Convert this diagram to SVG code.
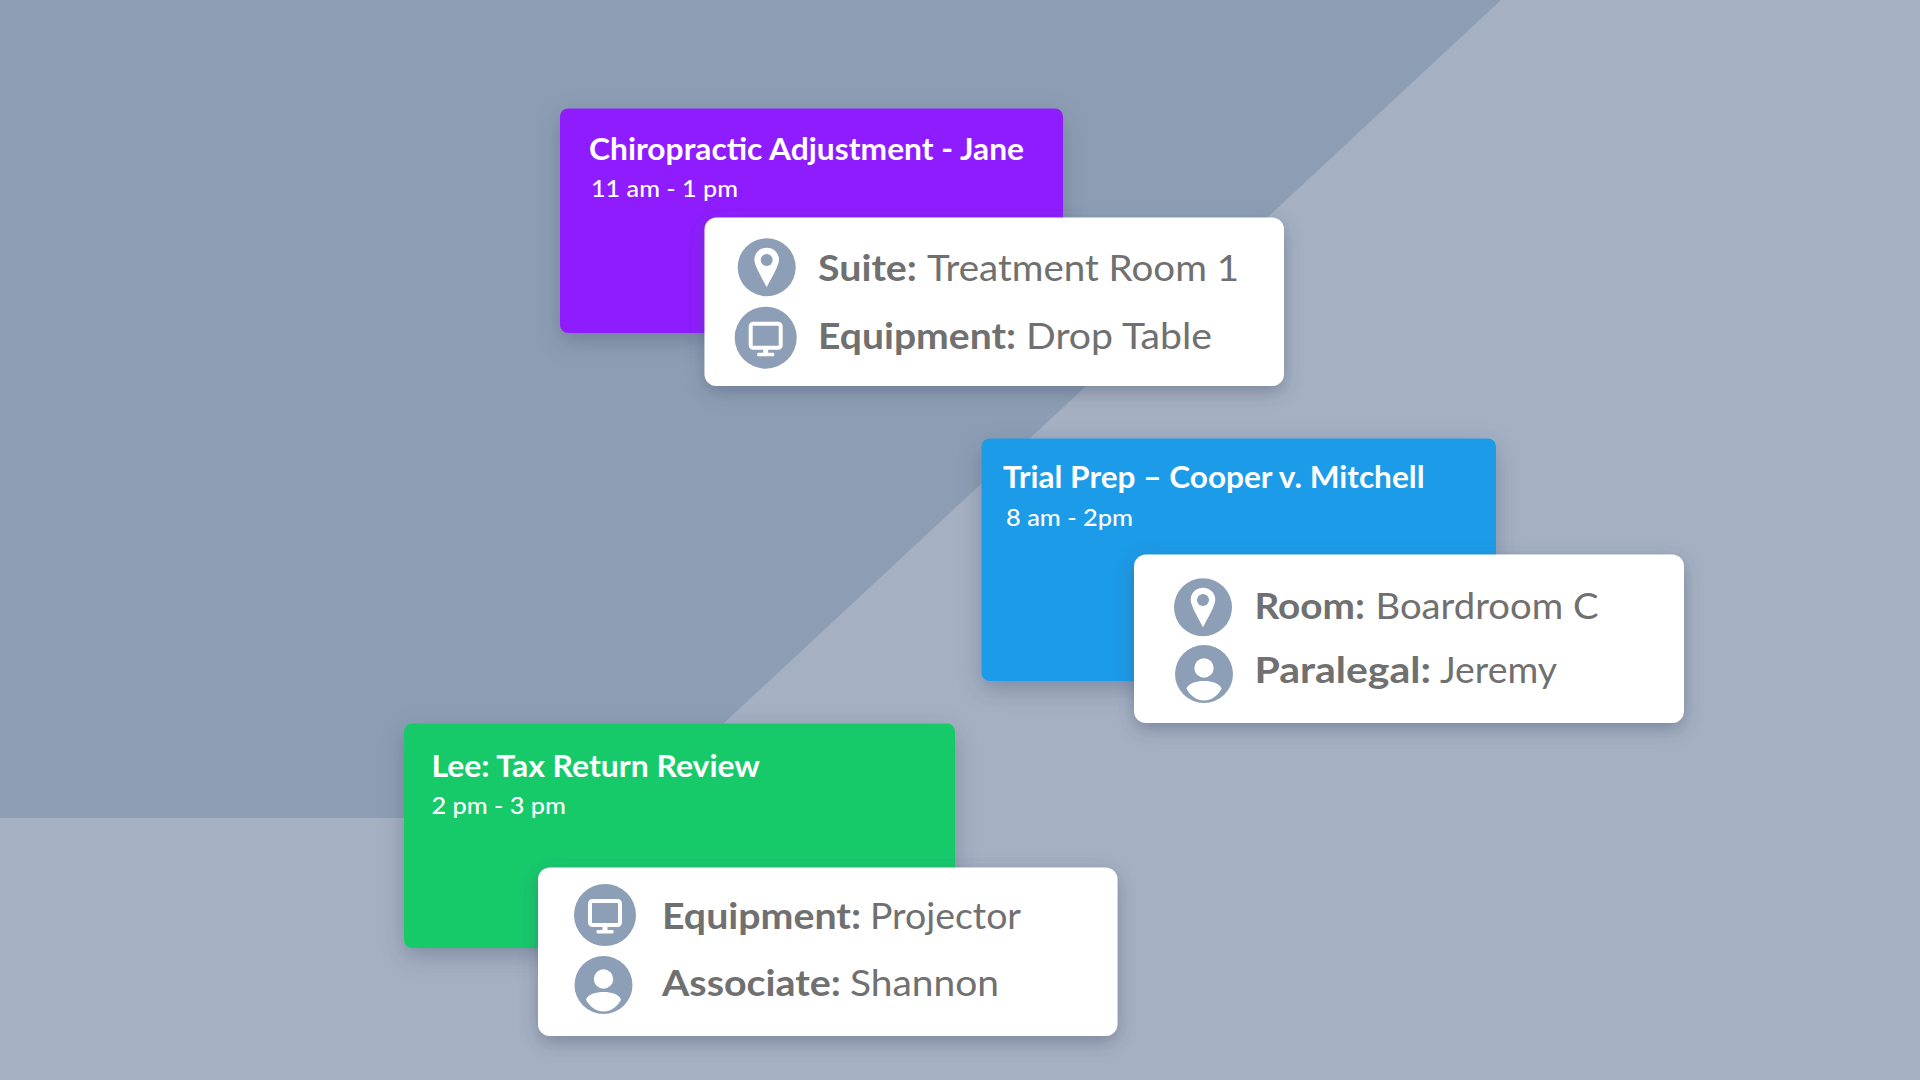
<svg xmlns="http://www.w3.org/2000/svg" width="1920" height="1080" viewBox="0 0 1920 1080">
<defs>
<style>
text{font-family:"Lato","Noto Sans","Liberation Sans",sans-serif}
.t{font-size:29.500px;font-weight:700;fill:#fff}
.s{font-size:23.500px;font-weight:500;fill:#fff}
.b{font-size:37px;font-weight:700;fill:#707070}
.r{font-size:37px;font-weight:400;fill:#707070}
.c{fill:#8c9fb6}
</style>
<filter id="sh" x="-20%" y="-20%" width="140%" height="150%"><feDropShadow dx="0" dy="8" stdDeviation="11" flood-color="#3c4c68" flood-opacity=".35"/></filter>
<filter id="sw" x="-20%" y="-20%" width="140%" height="150%"><feDropShadow dx="0" dy="6" stdDeviation="9" flood-color="#3c4c68" flood-opacity=".4"/></filter>
<g id="pin"><path d="M0-19.500C-7-19.500-12.300-14.200-12.300-7.500C-12.300-1.500-4.500 11 0 20C4.500 11 12.300-1.500 12.300-7.500C12.300-14.200 7-19.500 0-19.500Z" fill="#fff"/><circle cy="-7.300" r="6" class="c"/></g>
<g id="mon"><rect x="-15" y="-14" width="30" height="24" rx="2.500" fill="none" stroke="#fff" stroke-width="4"/><rect x="-2.500" y="11" width="5" height="5" fill="#fff"/><rect x="-8.500" y="15" width="17" height="3.500" rx="1" fill="#fff"/></g>
<g id="per"><circle cy="-6" r="9.700" fill="#fff"/><path d="M-17.500 14.500C-15 9-8 7 0 7C8 7 15 9 17.500 14.500C14 22 7 26.500 0 26.500C-7 26.500-14 22-17.500 14.500Z" fill="#fff"/></g>
</defs>
<g id="background">
<rect width="1920" height="1080" fill="#a5b0c2"/>
<polygon points="0,0 1501,0 622,818 0,818" fill="#8d9eb4"/>
</g>
<g id="card-purple">
<rect x="560" y="108.500" width="503" height="224.500" rx="8" fill="#8f1cff" filter="url(#sh)"/>
<text class="t" x="589" y="159.500" textLength="435" lengthAdjust="spacingAndGlyphs">Chiropractic Adjustment - Jane</text>
<text class="s" x="591" y="196.500" textLength="147" lengthAdjust="spacingAndGlyphs">11 am - 1 pm</text>
</g>
<g id="popup-purple">
<rect x="704.500" y="217.500" width="579.500" height="168.500" rx="12" fill="#fff" filter="url(#sw)"/>
<circle class="c" cx="766.700" cy="267.300" r="29"/><use href="#pin" x="766.700" y="267.300"/>
<circle class="c" cx="765.700" cy="337.700" r="31"/><use href="#mon" x="765.700" y="337.700"/>
<text class="b" x="818" y="280.500" textLength="99" lengthAdjust="spacingAndGlyphs">Suite:</text>
<text class="r" x="927" y="280.500" textLength="312" lengthAdjust="spacingAndGlyphs">Treatment Room 1</text>
<text class="b" x="818" y="348.500" textLength="198" lengthAdjust="spacingAndGlyphs">Equipment:</text>
<text class="r" x="1026" y="348.500" textLength="186" lengthAdjust="spacingAndGlyphs">Drop Table</text>
</g>
<g id="card-blue">
<rect x="981.500" y="438.500" width="514.500" height="242.500" rx="8" fill="#1c9be8" filter="url(#sh)"/>
<text class="t" x="1003" y="487.500" textLength="421.500" lengthAdjust="spacingAndGlyphs">Trial Prep – Cooper v. Mitchell</text>
<text class="s" x="1006" y="525.500" textLength="127" lengthAdjust="spacingAndGlyphs">8 am - 2pm</text>
</g>
<g id="popup-blue">
<rect x="1134" y="554.500" width="550" height="168.500" rx="12" fill="#fff" filter="url(#sw)"/>
<circle class="c" cx="1203" cy="607.300" r="29"/><use href="#pin" x="1203" y="607.300"/>
<circle class="c" cx="1204" cy="674" r="29"/><use href="#per" x="1204" y="674"/>
<text class="b" x="1254.500" y="618.500" textLength="110.500" lengthAdjust="spacingAndGlyphs">Room:</text>
<text class="r" x="1375.500" y="618.500" textLength="223" lengthAdjust="spacingAndGlyphs">Boardroom C</text>
<text class="b" x="1254.500" y="683" textLength="176.500" lengthAdjust="spacingAndGlyphs">Paralegal:</text>
<text class="r" x="1440" y="683" textLength="117" lengthAdjust="spacingAndGlyphs">Jeremy</text>
</g>
<g id="card-green">
<rect x="404" y="723.500" width="551" height="224.500" rx="8" fill="#18ca6a" filter="url(#sh)"/>
<text class="t" x="431.500" y="776.500" textLength="328.500" lengthAdjust="spacingAndGlyphs">Lee: Tax Return Review</text>
<text class="s" x="431.500" y="813.500" textLength="134.500" lengthAdjust="spacingAndGlyphs">2 pm - 3 pm</text>
</g>
<g id="popup-green">
<rect x="538" y="867.500" width="579.500" height="168.500" rx="12" fill="#fff" filter="url(#sw)"/>
<circle class="c" cx="605" cy="915" r="31"/><use href="#mon" x="605" y="915"/>
<circle class="c" cx="603.500" cy="985" r="29"/><use href="#per" x="603.500" y="985"/>
<text class="b" x="662" y="928.500" textLength="199" lengthAdjust="spacingAndGlyphs">Equipment:</text>
<text class="r" x="870" y="928.500" textLength="151" lengthAdjust="spacingAndGlyphs">Projector</text>
<text class="b" x="662" y="996" textLength="179" lengthAdjust="spacingAndGlyphs">Associate:</text>
<text class="r" x="850" y="996" textLength="149" lengthAdjust="spacingAndGlyphs">Shannon</text>
</g>
</svg>
